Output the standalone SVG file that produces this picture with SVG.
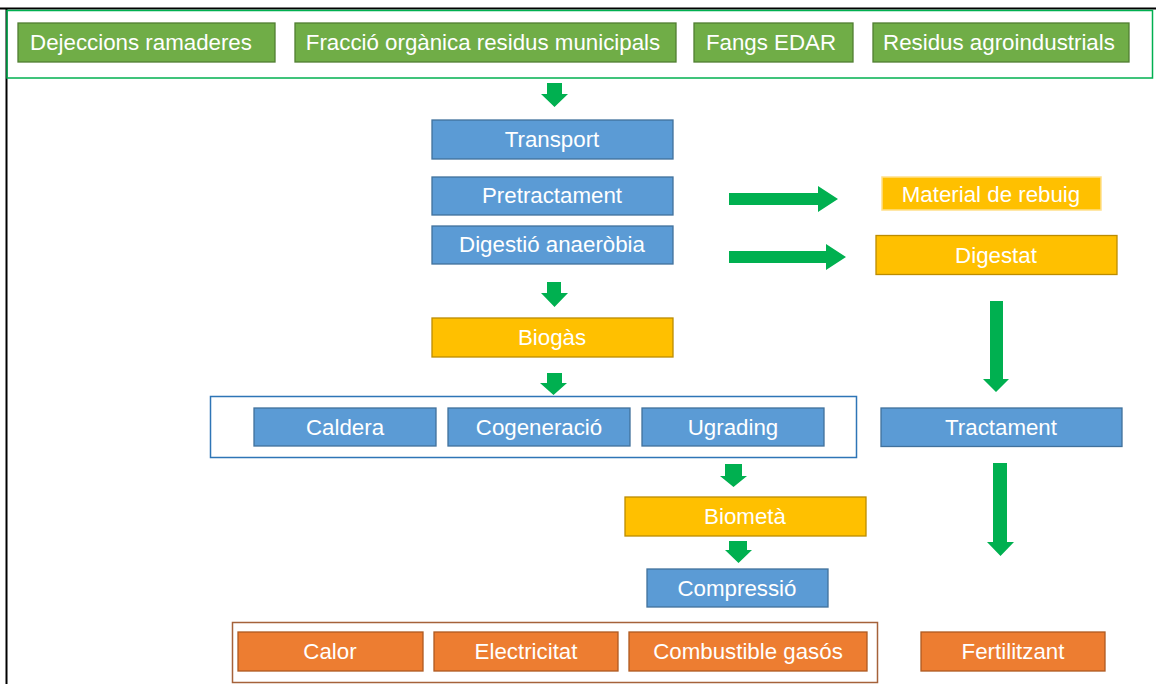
<svg xmlns="http://www.w3.org/2000/svg" width="1156" height="684" viewBox="0 0 1156 684">
<style>
  text { font-family: "Liberation Sans", Arial, sans-serif; font-size: 22.3px; fill: #ffffff; text-anchor: middle; dominant-baseline: central; }
  .g { fill: #70ad47; stroke: #507e32; stroke-width: 1.3; }
  .b { fill: #5b9bd5; stroke: #41719c; stroke-width: 1.3; }
  .y { fill: #ffc000; stroke: #bc8c00; stroke-width: 1.3; }
  .yl { fill: #ffc000; stroke: #ffe08a; stroke-width: 1.5; }
  .o { fill: #ed7d31; stroke: #ae5a21; stroke-width: 1.3; }
  .arr { fill: #00b050; }
</style>
<rect width="1156" height="684" fill="#ffffff"/>
<!-- frame lines -->
<line x1="0" y1="8.5" x2="1156" y2="8.5" stroke="#000" stroke-width="2"/>
<line x1="6.5" y1="8" x2="6.5" y2="684" stroke="#000" stroke-width="2"/>
<g id="containers" fill="none">
  <rect x="7" y="10.5" width="1145.5" height="67.5" stroke="#00b050" stroke-width="1.5"/>
  <rect x="210.5" y="396.5" width="646" height="61" stroke="#2e75b6" stroke-width="1.5"/>
  <rect x="232.5" y="622.5" width="645" height="60" stroke="#a5623a" stroke-width="1.5"/>
</g>
<g id="n-dejeccions"><rect class="g" x="18" y="23" width="257" height="39"/><text x="141" y="42">Dejeccions ramaderes</text></g>
<g id="n-fraccio"><rect class="g" x="295" y="23" width="381" height="39"/><text x="483" y="42">Fracció orgànica residus municipals</text></g>
<g id="n-fangs"><rect class="g" x="694" y="23" width="159" height="39"/><text x="771" y="42">Fangs EDAR</text></g>
<g id="n-residus"><rect class="g" x="873" y="23" width="256" height="39"/><text x="999" y="42">Residus agroindustrials</text></g>
<g id="n-transport"><rect class="b" x="432" y="120" width="241" height="39"/><text x="552" y="139">Transport</text></g>
<g id="n-pretractament"><rect class="b" x="432" y="177" width="241" height="38"/><text x="552" y="195.5">Pretractament</text></g>
<g id="n-digestio"><rect class="b" x="432" y="226" width="241" height="38"/><text x="552" y="244.5">Digestió anaeròbia</text></g>
<g id="n-material"><rect class="yl" x="882" y="177" width="219" height="33"/><text x="991" y="194">Material de rebuig</text></g>
<g id="n-digestat"><rect class="y" x="876" y="235.5" width="241" height="39"/><text x="996" y="255">Digestat</text></g>
<g id="n-biogas"><rect class="y" x="432" y="318" width="241" height="39"/><text x="552" y="337">Biogàs</text></g>
<g id="n-caldera"><rect class="b" x="254" y="408" width="182" height="38"/><text x="345" y="427">Caldera</text></g>
<g id="n-cogeneracio"><rect class="b" x="448" y="408" width="182" height="38"/><text x="539" y="427">Cogeneració</text></g>
<g id="n-ugrading"><rect class="b" x="642" y="408" width="182" height="38"/><text x="733" y="427">Ugrading</text></g>
<g id="n-tractament"><rect class="b" x="881" y="408" width="241" height="38.5"/><text x="1001" y="427">Tractament</text></g>
<g id="n-biometa"><rect class="y" x="625" y="497" width="241" height="39"/><text x="745" y="516">Biometà</text></g>
<g id="n-compressio"><rect class="b" x="647" y="569" width="181" height="38"/><text x="737" y="588">Compressió</text></g>
<g id="n-calor"><rect class="o" x="238" y="632" width="185" height="39"/><text x="330" y="651">Calor</text></g>
<g id="n-electricitat"><rect class="o" x="434" y="632" width="184" height="39"/><text x="526" y="651">Electricitat</text></g>
<g id="n-combustible"><rect class="o" x="629" y="632" width="238" height="39"/><text x="748" y="651">Combustible gasós</text></g>
<g id="n-fertilitzant"><rect class="o" x="921" y="632" width="184" height="39"/><text x="1013" y="651">Fertilitzant</text></g>
<g id="connectors">
  <polygon class="arr" points="547,83 562,83 562,94 568,94 554.5,107 541,94 547,94"/>
  <polygon class="arr" points="547,282 561,282 561,293 568,293 554.5,307 541,293 547,293"/>
  <polygon class="arr" points="547,373 562,373 562,383 567,383 553.5,395 540,383 547,383"/>
  <polygon class="arr" points="729,193 818,193 818,186 838,199 818,212 818,205 729,205"/>
  <polygon class="arr" points="729,251 826,251 826,244 846,257 826,270 826,263 729,263"/>
  <polygon class="arr" points="990,301 1003,301 1003,379 1009,379 996,392 983,379 990,379"/>
  <polygon class="arr" points="993,463 1007,463 1007,542 1014,542 1000.5,556 987,542 993,542"/>
  <polygon class="arr" points="725,464 742,464 742,476 747,476 733.5,487 720,476 725,476"/>
  <polygon class="arr" points="729,541 747,541 747,550 752,550 738.5,563 725,550 729,550"/>
</g>
</svg>
